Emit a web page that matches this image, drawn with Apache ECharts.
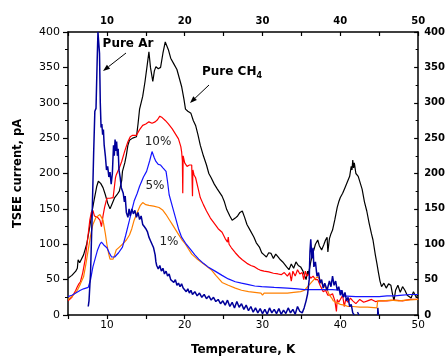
<!DOCTYPE html>
<html>
<head>
<meta charset="utf-8">
<script src="https://cdn.jsdelivr.net/npm/echarts@6/dist/echarts.min.js"></script>
<style>html,body{margin:0;padding:0;background:#fff}#c{width:448px;height:361px}</style>
</head>
<body>
<div id="c"></div>
<script>
// ---- data (Temperature K, TSEE current pA) ----
const xTicks = [10, 20, 30, 40, 50];
const yTicks = [0, 50, 100, 150, 200, 250, 300, 350, 400];

const pureAr = [[7.6,12],[7.7,20],[7.9,60],[8.1,140],[8.3,230],[8.45,288],[8.6,292],[8.75,360],[8.85,400],[8.95,400],[9.05,370],[9.15,300],[9.25,265],[9.35,270],[9.45,255],[9.55,262],[9.65,240],[9.8,225],[9.95,205],[10.1,210],[10.25,195],[10.4,202],[10.55,185],[10.7,200],[10.85,240],[10.95,225],[11.05,248],[11.15,232],[11.25,245],[11.35,225],[11.45,235],[11.55,205],[11.7,195],[11.85,180],[12.0,178],[12.1,172],[12.25,160],[12.35,168],[12.5,145],[12.7,138],[12.85,150],[13.0,140],[13.2,150],[13.4,143],[13.6,148],[13.8,138],[14.0,145],[14.2,135],[14.4,140],[14.6,128],[14.8,125],[15.0,122],[15.2,118],[15.4,110],[15.6,105],[15.8,100],[16.0,95],[16.2,85],[16.3,75],[16.4,70],[16.6,65],[16.8,70],[17.0,62],[17.2,66],[17.4,58],[17.6,62],[17.8,55],[18.0,58],[18.2,50],[18.4,52],[18.6,46],[18.8,50],[19.0,42],[19.2,45],[19.4,40],[19.6,44],[19.8,38],[20.0,40],[20.2,33],[20.4,37],[20.6,31],[20.8,35],[21.0,29],[21.3,33],[21.6,27],[21.9,31],[22.2,25],[22.5,29],[22.8,23],[23.1,27],[23.4,21],[23.7,25],[24.0,19],[24.3,22],[24.6,16],[24.9,20],[25.2,14],[25.5,21],[25.8,12],[26.1,18],[26.4,10],[26.7,19],[27.0,11],[27.3,16],[27.6,8],[27.9,14],[28.2,6],[28.5,12],[28.8,4],[29.1,10],[29.4,3],[29.7,9],[30.0,2],[30.3,8],[30.6,1],[30.9,10],[31.2,3],[31.5,8],[31.8,2],[32.1,9],[32.4,1],[32.7,7],[33.0,2],[33.3,10],[33.6,3],[33.9,8],[34.2,1],[34.5,12],[34.8,5],[35.1,3],[35.35,10],[35.6,20],[35.8,30],[36.0,50],[36.1,90],[36.2,107],[36.35,80],[36.5,95],[36.6,68],[36.8,75],[37.0,55],[37.2,60],[37.4,45],[37.6,50],[37.8,38],[38.0,45],[38.3,35],[38.6,48],[38.8,40],[39.0,55],[39.2,42],[39.4,48],[39.6,35],[39.8,40],[40.0,28],[40.2,35],[40.4,25],[40.6,32],[40.8,20],[41.0,25],[41.2,12],[41.4,15],[41.6,3],[41.8,0],[42.0,'-'],[42.2,4],[42.4,0],[42.5,'-'],[44.8,0],[44.82,10],[44.9,0]];

const pureCH4 = [[5,52],[5.5,56],[6.0,62],[6.2,66],[6.3,78],[6.5,74],[6.7,72],[7.0,85],[7.4,100],[7.8,125],[8.1,147],[8.4,165],[8.7,182],[8.9,189],[9.2,186],[9.5,180],[9.8,170],[10.1,158],[10.4,150],[10.7,158],[11.0,166],[11.3,170],[11.6,175],[11.9,190],[12.0,203],[12.3,215],[12.5,226],[12.7,240],[12.9,247],[13.3,250],[13.8,252],[14.0,270],[14.2,291],[14.6,309],[14.9,330],[15.2,355],[15.4,372],[15.6,350],[15.9,330],[16.1,345],[16.3,351],[16.6,348],[16.9,350],[17.2,370],[17.5,386],[17.7,388],[17.9,375],[18.2,363],[18.6,355],[19.0,347],[19.3,335],[19.6,323],[19.9,305],[20.1,291],[20.4,288],[20.8,285],[21.1,275],[21.4,268],[21.7,255],[22.0,240],[22.4,225],[22.8,212],[23.1,200],[23.4,194],[23.8,185],[24.2,178],[24.8,168],[25.1,160],[25.4,149],[25.8,140],[26.1,134],[26.5,137],[26.8,140],[27.1,145],[27.4,147],[27.7,138],[28.0,128],[28.4,120],[28.9,110],[29.2,102],[29.6,96],[29.9,88],[30.2,85],[30.5,82],[30.8,88],[31.1,87],[31.4,80],[31.7,86],[32.0,82],[32.3,78],[32.6,75],[32.8,73],[33.1,68],[33.4,64],[33.7,72],[34.0,66],[34.3,75],[34.6,70],[34.9,68],[35.2,62],[35.4,56],[35.6,50],[35.8,62],[35.9,57],[36.2,75],[36.4,85],[36.6,92],[36.8,100],[37.1,106],[37.3,98],[37.6,92],[37.9,100],[38.1,106],[38.3,110],[38.4,89],[38.6,108],[38.8,115],[39.0,120],[39.3,135],[39.6,152],[39.8,160],[40.0,166],[40.3,172],[40.6,180],[40.9,188],[41.2,196],[41.4,210],[41.5,205],[41.6,219],[41.7,208],[41.8,215],[42.0,200],[42.3,196],[42.5,194],[42.8,178],[43.1,160],[43.4,147],[43.7,130],[44.0,115],[44.2,106],[44.5,85],[44.7,73],[44.9,60],[45.1,48],[45.3,40],[45.6,45],[45.9,38],[46.2,44],[46.5,42],[46.7,30],[46.9,20],[47.1,35],[47.4,42],[47.7,32],[48.0,40],[48.3,35],[48.6,28],[48.8,30],[49.1,24],[49.4,33],[49.7,26],[50,28]];

const ch4_10 = [[5,20],[5.5,25],[6.0,35],[6.2,40],[6.4,44],[6.6,47],[6.9,60],[7.2,78],[7.5,105],[7.8,134],[8.0,145],[8.2,148],[8.4,140],[8.5,142],[8.8,138],[9.1,134],[9.3,125],[9.5,140],[9.7,152],[10.0,165],[10.4,165],[10.8,166],[11.1,194],[11.2,198],[11.6,208],[11.9,217],[12.3,232],[12.7,245],[13.0,252],[13.3,254],[13.8,254],[14.2,262],[14.6,268],[15.0,270],[15.4,273],[15.8,271],[16.2,273],[16.5,276],[16.8,281],[17.1,279],[17.5,275],[17.9,270],[18.4,263],[18.8,256],[19.2,249],[19.5,238],[19.6,231],[19.7,218],[19.75,172],[19.8,225],[20.0,215],[20.3,210],[20.6,212],[20.9,212],[21.0,168],[21.05,205],[21.2,198],[21.4,194],[21.7,180],[22.0,166],[22.4,156],[22.8,147],[23.3,137],[23.9,128],[24.3,122],[24.8,117],[25.2,108],[25.5,103],[25.6,110],[25.7,100],[26.0,95],[26.5,88],[27.0,82],[27.4,78],[28.0,73],[28.5,70],[29.0,68],[29.4,65],[29.8,63],[30.2,62],[30.8,61],[31.4,59],[32.0,58],[32.4,57],[32.8,60],[33.2,55],[33.5,60],[33.7,48],[33.9,62],[34.2,55],[34.5,64],[34.8,58],[35.1,60],[35.3,50],[35.5,62],[35.7,55],[35.9,58],[36.2,52],[36.5,55],[36.8,50],[37.1,50],[37.4,42],[37.8,33],[38.1,35],[38.4,28],[38.7,28],[39.0,30],[39.3,20],[39.5,5],[39.6,22],[39.8,18],[40.0,17],[40.3,28],[40.5,12],[40.7,22],[41.0,18],[41.3,24],[41.6,20],[42.0,16],[42.5,22],[43.0,18],[43.5,20],[44.0,22],[44.5,19],[45.0,20],[46,20],[47,21],[48,20],[49,22],[50,22]];

const ch4_5 = [[5,26],[5.5,28],[6.0,31],[6.2,32],[6.6,35],[7.0,37],[7.6,39],[7.9,50],[8.2,68],[8.5,80],[8.8,92],[9.1,100],[9.3,103],[9.6,99],[10.0,95],[10.3,88],[10.6,82],[11.0,82],[11.5,88],[12.0,96],[12.4,112],[12.9,134],[13.2,148],[13.5,161],[13.9,172],[14.2,182],[14.7,195],[15.1,203],[15.5,218],[15.8,231],[16.1,222],[16.3,217],[16.6,213],[16.9,212],[17.2,208],[17.6,203],[17.8,188],[18.0,170],[18.5,150],[18.9,134],[19.2,122],[19.6,110],[20.2,100],[20.8,92],[21.3,85],[21.8,79],[22.4,73],[23.0,68],[23.9,62],[24.8,56],[25.6,51],[26.5,47],[27.3,45],[28.2,43],[29.0,41],[29.9,40],[31.5,39],[33.2,38],[34.5,37],[35.4,36],[37,36],[38,36],[39,36],[40,35],[40.3,27],[42,26],[44,26],[45,26],[46,27],[47,27],[48,28],[49,29],[50,29]];

const ch4_1 = [[5,22],[5.5,26],[6.0,32],[6.2,35],[6.6,44],[7.0,54],[7.3,72],[7.6,92],[7.9,112],[8.2,128],[8.6,138],[9.1,142],[9.3,138],[9.5,134],[9.8,115],[10.0,100],[10.2,88],[10.4,79],[10.8,79],[11.0,85],[11.2,92],[11.6,96],[12.0,100],[12.5,106],[12.9,113],[13.2,122],[13.5,134],[13.9,145],[14.3,155],[14.6,159],[15.0,156],[15.4,155],[16.0,154],[16.7,152],[17.2,148],[17.6,142],[18.0,135],[18.4,128],[18.8,121],[19.2,114],[19.6,107],[20.1,100],[20.5,93],[20.9,86],[21.5,80],[22.1,75],[22.7,70],[23.4,64],[24.0,56],[24.8,46],[25.6,42],[26.5,38],[27.3,35],[28.2,33],[29.0,32],[29.8,31],[30.0,28],[30.2,31],[31,31],[32,31],[33.2,31],[34,32],[34.9,33],[35.4,35],[35.8,40],[36.2,45],[36.6,50],[37.1,54],[37.4,50],[37.6,45],[38.0,40],[38.3,36],[38.6,28],[38.9,24],[39.1,20],[39.4,18],[40.0,15],[40.5,14],[41.0,12],[41.6,12],[42.5,11],[43.5,11],[44.7,10],[44.8,20],[45.5,20],[46.5,21],[47.5,20],[48.5,21],[50,22]];

// ---- chart ----
const FONT = 'DejaVu Sans';
function arrow(x1, y1, x2, y2) {
  const a = Math.atan2(y2 - y1, x2 - x1), L = 7, W = 2.6;
  const bx = x2 - L * Math.cos(a), by = y2 - L * Math.sin(a);
  const px = -Math.sin(a) * W, py = Math.cos(a) * W;
  return [
    { type: 'line', shape: { x1, y1, x2: bx, y2: by }, style: { stroke: '#000', lineWidth: 1 } },
    { type: 'polygon', shape: { points: [[x2, y2], [bx + px, by + py], [bx - px, by - py]] }, style: { fill: '#000' } }
  ];
}
const xFmt = v => (xTicks.indexOf(v) >= 0 ? String(v) : '');
const line = (name, data, color, w) => ({
  name, type: 'line', data, showSymbol: false, symbol: 'none',
  lineStyle: { color, width: w }, xAxisIndex: 0, yAxisIndex: 0, z: 3
});

const chart = echarts.init(document.getElementById('c'), null, { renderer: 'canvas' });
chart.setOption({
  animation: false,
  backgroundColor: '#fff',
  grid: { left: 68, right: 25, top: 32, bottom: 42 },
  xAxis: [
    { type: 'value', position: 'bottom', min: 5, max: 50, interval: 5,
      axisLine: { lineStyle: { color: '#000', width: 1.5 } },
      axisTick: { inside: false, length: 4, lineStyle: { color: '#000', width: 1.2 } },
      axisLabel: { formatter: xFmt, color: '#000', fontFamily: FONT, fontSize: 10.5, margin: 5 },
      splitLine: { show: false },
      name: 'Temperature, K', nameLocation: 'middle', nameGap: 29,
      nameTextStyle: { fontFamily: FONT, fontWeight: 'bold', fontSize: 12, color: '#000' } },
    { type: 'value', position: 'top', min: 5, max: 50, interval: 5,
      axisLine: { onZero: false, lineStyle: { color: '#000', width: 1.5 } },
      axisTick: { inside: true, length: 4, lineStyle: { color: '#000', width: 1.2 } },
      axisLabel: { formatter: xFmt, color: '#000', fontFamily: FONT, fontWeight: 'bold', fontSize: 10, margin: 6 },
      splitLine: { show: false } }
  ],
  yAxis: [
    { type: 'value', position: 'left', min: 0, max: 400, interval: 50,
      axisLine: { show: true, lineStyle: { color: '#000', width: 1.5 } },
      axisTick: { show: true, inside: false, length: 5, lineStyle: { color: '#000', width: 1.2 } },
      minorTick: { show: true, splitNumber: 2, length: 3, lineStyle: { color: '#000', width: 1 } },
      axisLabel: { color: '#000', fontFamily: FONT, fontSize: 11, margin: 8,
        formatter: v => (yTicks.indexOf(v) >= 0 ? String(v) : '') },
      splitLine: { show: false },
      name: 'TSEE current, pA', nameLocation: 'middle', nameGap: 44, nameRotate: 90,
      nameTextStyle: { fontFamily: FONT, fontWeight: 'bold', fontSize: 11.5, color: '#000' } },
    { type: 'value', position: 'right', min: 0, max: 400, interval: 50,
      axisLine: { show: true, onZero: false, lineStyle: { color: '#000', width: 1.5 } },
      axisTick: { show: true, inside: true, length: 4, lineStyle: { color: '#000', width: 1.2 } },
      minorTick: { show: true, splitNumber: 2, length: 2.5, lineStyle: { color: '#000', width: 1 } },
      axisLabel: { color: '#000', fontFamily: FONT, fontWeight: 'bold', fontSize: 10, margin: 6 },
      splitLine: { show: false } }
  ],
  series: [
    line('Pure CH4', pureCH4, '#000000', 1.2),
    line('10%', ch4_10, '#ff0000', 1.2),
    line('1%', ch4_1, '#ff8000', 1.2),
    line('5%', ch4_5, '#1414ff', 1.2),
    line('Pure Ar', pureAr, '#00009a', 1.5)
  ],
  graphic: [
    { type: 'text', x: 128, y: 44, style: { text: 'Pure Ar', font: 'bold 12px "DejaVu Sans"', fill: '#000', align: 'center', verticalAlign: 'middle' }, z: 10 },
    { type: 'text', x: 202, y: 72, style: { text: 'Pure CH{s|4}', font: 'bold 12px "DejaVu Sans"', fill: '#000', align: 'left', verticalAlign: 'middle',
        rich: { s: { fontFamily: FONT, fontWeight: 'bold', fontSize: 8, padding: [8, 0, 0, 0] } } }, z: 10 },
    { type: 'text', x: 158, y: 142, style: { text: '10%', font: '12px "DejaVu Sans"', fill: '#222', align: 'center', verticalAlign: 'middle' }, z: 10 },
    { type: 'text', x: 155, y: 186, style: { text: '5%', font: '12px "DejaVu Sans"', fill: '#222', align: 'center', verticalAlign: 'middle' }, z: 10 },
    { type: 'text', x: 169, y: 242, style: { text: '1%', font: '12px "DejaVu Sans"', fill: '#222', align: 'center', verticalAlign: 'middle' }, z: 10 },
    ...arrow(126, 53, 103, 71),
    ...arrow(209, 85, 190, 103)
  ]
});
</script>
</body>
</html>
